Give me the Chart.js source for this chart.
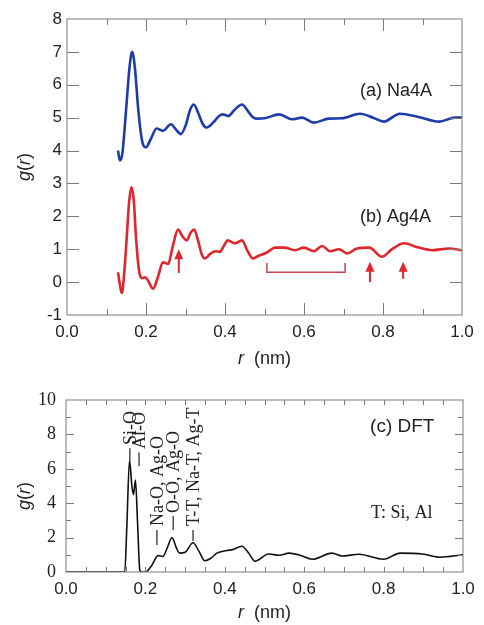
<!DOCTYPE html>
<html lang="en">
<head>
    <meta charset="UTF-8">
    <title>g(r) Na4A / Ag4A / DFT</title>
    <script src="https://cdn.jsdelivr.net/npm/chart.js@4.4.6/dist/chart.umd.min.js"></script>
    <style>
        body { margin: 0; background: #fff; }
        #top-wrap { position: absolute; left: 0; top: 0; width: 484px; height: 380px; }
        #bot-wrap { position: absolute; left: 0; top: 379px; width: 484px; height: 246px; }
    </style>
</head>
<body>
    <div id="top-wrap"><canvas id="rdf-exp"></canvas></div>
    <div id="bot-wrap"><canvas id="rdf-dft"></canvas></div>

    <script>
        // (a) Na4A, r in nm
        const rNa = [0.129, 0.134, 0.140, 0.150, 0.158, 0.165, 0.172, 0.180, 0.190, 0.200, 0.212, 0.227, 0.243, 0.263,
            0.275, 0.288, 0.300, 0.312, 0.321, 0.332, 0.344, 0.354, 0.370, 0.385, 0.395, 0.408, 0.425, 0.443, 0.458,
            0.470, 0.480, 0.500, 0.537, 0.570, 0.595, 0.625, 0.663, 0.696, 0.742, 0.775, 0.802, 0.843, 0.890, 0.942,
            0.982, 1.000]
        const gNa = [4.0, 3.7, 3.9, 5.3, 6.5, 7.0, 6.5, 5.3, 4.3, 4.1, 4.35, 4.67, 4.6, 4.8,
            4.65, 4.5, 4.75, 5.25, 5.4, 5.15, 4.8, 4.7, 4.85, 5.05, 5.1, 5.05, 5.25, 5.4, 5.2,
            5.02, 4.97, 4.98, 5.1, 4.95, 5.0, 4.85, 4.97, 4.98, 5.12, 5.0, 4.88, 5.12, 5.02, 4.88,
            5.0, 5.0]

        // (b) Ag4A
        const rAg = [0.129, 0.139, 0.145, 0.152, 0.157, 0.163, 0.169, 0.175, 0.183, 0.190, 0.198, 0.205, 0.218, 0.230,
            0.243, 0.256, 0.268, 0.281, 0.292, 0.303, 0.313, 0.322, 0.332, 0.341, 0.349, 0.362, 0.375, 0.387, 0.397,
            0.407, 0.425, 0.443, 0.457, 0.471, 0.485, 0.506, 0.527, 0.551, 0.577, 0.600, 0.625, 0.646, 0.666, 0.689,
            0.709, 0.734, 0.765, 0.797, 0.823, 0.853, 0.890, 0.924, 0.967, 1.000]
        const gAg = [0.3, -0.33, 0.3, 1.5, 2.4, 2.88, 2.5, 1.3, 0.3, 0.12, 0.15, 0.05, -0.2, 0.15,
            0.6, 0.55, 1.1, 1.6, 1.4, 1.27, 1.5, 1.6, 1.25, 0.85, 0.72, 0.85, 0.94, 0.92, 1.1,
            1.27, 1.18, 1.27, 0.95, 0.72, 0.8, 0.9, 1.05, 1.05, 0.97, 1.05, 0.94, 1.1, 0.94, 1.0,
            0.87, 1.02, 1.05, 0.77, 1.0, 1.18, 1.05, 0.97, 1.02, 0.97]

        // (c) DFT
        const rDft = [0.0, 0.148, 0.153, 0.160, 0.166, 0.170, 0.175, 0.180, 0.186, 0.190, 0.200, 0.215, 0.232, 0.244,
            0.255, 0.267, 0.278, 0.286, 0.300, 0.320, 0.335, 0.350, 0.365, 0.380, 0.405, 0.420, 0.443, 0.460, 0.476,
            0.510, 0.537, 0.562, 0.590, 0.620, 0.670, 0.695, 0.738, 0.800, 0.842, 0.898, 0.941, 1.000]
        const gDft = [0, 0, 2.5, 6.5, 5.0, 4.5, 5.35, 3.0, 0.1, 0, 0, 0.35, 0.95, 0.9,
            1.4, 2.0, 1.4, 1.1, 1.15, 1.7, 1.2, 0.65, 0.8, 1.1, 1.25, 1.3, 1.5, 1.1, 0.63,
            1.05, 0.97, 1.1, 0.97, 0.74, 1.1, 0.93, 1.03, 0.74, 1.1, 1.05, 0.86, 1.0]

        const xTickLabels = ['0.0', '0.2', '0.4', '0.6', '0.8', '1.0']

        // red arrows in (b): r, tail g, tip g
        const arrowR = [0.283, 0.767, 0.851]
        const arrowTail = [0.28, 0.0, 0.1]
        const arrowTip = [1.0, 0.62, 0.62]
        // bracket in (b)
        const bracketR = [0.506, 0.704]
        const bracketG = [0.3, 0.58]

        // peak assignments in (c): label, r, text start g, leader from/to g
        const peakLabels = ['Si-O', 'Al-O', 'Na-O, Ag-O', 'O-O, Ag-O', 'T-T, Na-T, Ag-T']
        const peakR = [0.161, 0.184, 0.229, 0.270, 0.320]
        const peakTextG = [7.38, 7.15, 2.67, 3.43, 2.67]
        const peakLeadTop = [7.2, 6.95, 2.44, 3.26, 2.44]
        const peakLeadBot = [6.5, 6.15, 1.57, 2.44, 1.8]

        const sans = '"Liberation Sans", Arial, Helvetica, sans-serif'
        const serif = '"Liberation Serif", "Times New Roman", serif'
        const frameColor = '#7b7b7b'

        function toPoints(xs, ys) {
            return xs.map((x, i) => ({ x: x, y: ys[i] }))
        }

        // mixed italic / upright text, centred on x
        function richText(ctx, parts, x, y, size) {
            let w = 0
            parts.forEach(p => {
                ctx.font = (p.it ? 'italic ' : '') + size + 'px ' + sans
                p.w = ctx.measureText(p.t).width
                w += p.w
            })
            let cx = x - w / 2
            ctx.textAlign = 'left'
            ctx.textBaseline = 'middle'
            parts.forEach(p => {
                ctx.font = (p.it ? 'italic ' : '') + size + 'px ' + sans
                ctx.fillText(p.t, cx, y)
                cx += p.w
            })
        }

        // box round the plot with inward ticks on all four sides
        function framePlugin(o) {
            return {
                id: 'frame',
                afterDraw(chart) {
                    const { ctx, chartArea: a, scales: { x, y } } = chart
                    ctx.save()
                    ctx.strokeStyle = frameColor
                    ctx.lineWidth = 1
                    ctx.strokeRect(a.left, a.top, a.right - a.left, a.bottom - a.top)
                    ctx.beginPath()
                    const nx = Math.round((x.max - x.min) / o.xStep)
                    for (let i = 1; i < nx; i++) {
                        const px = Math.round(x.getPixelForValue(x.min + i * o.xStep)) + 0.5
                        const len = i % o.xMajorEvery == 0 ? o.xLong : o.xShort
                        ctx.moveTo(px, a.bottom); ctx.lineTo(px, a.bottom - len)
                        ctx.moveTo(px, a.top); ctx.lineTo(px, a.top + len)
                    }
                    const ny = Math.round((y.max - y.min) / o.yStep)
                    for (let i = 1; i < ny; i++) {
                        const val = y.min + i * o.yStep
                        const py = Math.round(y.getPixelForValue(val)) + 0.5
                        const len = Math.round(val) % o.yMajorEvery == 0 ? o.yLong : o.yShort
                        ctx.moveTo(a.left, py); ctx.lineTo(a.left + len, py)
                        ctx.moveTo(a.right, py); ctx.lineTo(a.right - len, py)
                    }
                    ctx.stroke()
                    ctx.restore()
                }
            }
        }

        const gTitle = [{ t: 'g', it: true }, { t: '(' }, { t: 'r', it: true }, { t: ')' }]
        const rTitle = [{ t: 'r', it: true }, { t: '  (nm)' }]

        const expLabels = {
            id: 'expLabels',
            afterDraw(chart) {
                const { ctx, chartArea: a, scales: { x, y } } = chart
                ctx.save()
                ctx.fillStyle = '#222'
                ctx.translate(25, (a.top + a.bottom) / 2)
                ctx.rotate(-Math.PI / 2)
                richText(ctx, gTitle, 0, 0, 18)
                ctx.restore()

                ctx.save()
                ctx.fillStyle = '#222'
                richText(ctx, rTitle, (a.left + a.right) / 2, 359, 18)

                ctx.font = '18px ' + sans
                ctx.textAlign = 'left'
                ctx.textBaseline = 'middle'
                ctx.fillText('(a) Na4A', x.getPixelForValue(0.742), y.getPixelForValue(5.82))
                ctx.fillText('(b) Ag4A', x.getPixelForValue(0.742), y.getPixelForValue(1.97))

                // arrows
                ctx.strokeStyle = '#e0262d'
                ctx.fillStyle = '#e0262d'
                ctx.lineWidth = 2
                arrowR.forEach((r, i) => {
                    const px = x.getPixelForValue(r)
                    const yt = y.getPixelForValue(arrowTail[i])
                    const yh = y.getPixelForValue(arrowTip[i])
                    ctx.beginPath()
                    ctx.moveTo(px, yt); ctx.lineTo(px, yh + 8)
                    ctx.stroke()
                    ctx.beginPath()
                    ctx.moveTo(px, yh); ctx.lineTo(px - 4.5, yh + 10); ctx.lineTo(px + 4.5, yh + 10)
                    ctx.closePath()
                    ctx.fill()
                })

                // bracket
                ctx.strokeStyle = '#c8454f'
                ctx.lineWidth = 1.5
                const bx0 = x.getPixelForValue(bracketR[0]), bx1 = x.getPixelForValue(bracketR[1])
                const by0 = y.getPixelForValue(bracketG[0]), by1 = y.getPixelForValue(bracketG[1])
                ctx.beginPath()
                ctx.moveTo(bx0, by1); ctx.lineTo(bx0, by0); ctx.lineTo(bx1, by0); ctx.lineTo(bx1, by1)
                ctx.stroke()
                ctx.restore()
            }
        }

        const dftLabels = {
            id: 'dftLabels',
            afterDraw(chart) {
                const { ctx, chartArea: a, scales: { x, y } } = chart
                ctx.save()
                ctx.fillStyle = '#222'
                ctx.translate(25, (a.top + a.bottom) / 2 + 10)
                ctx.rotate(-Math.PI / 2)
                richText(ctx, gTitle, 0, 0, 18)
                ctx.restore()

                ctx.save()
                ctx.fillStyle = '#222'
                richText(ctx, rTitle, (a.left + a.right) / 2, 234, 18)

                ctx.textAlign = 'left'
                ctx.textBaseline = 'middle'
                ctx.font = '19px ' + sans
                ctx.fillText('(c) DFT', x.getPixelForValue(0.766), y.getPixelForValue(8.43))
                ctx.font = '18px ' + serif
                ctx.fillText('T: Si, Al', x.getPixelForValue(0.768), y.getPixelForValue(3.43))

                ctx.strokeStyle = '#222'
                ctx.lineWidth = 1.2
                peakLabels.forEach((t, i) => {
                    const px = x.getPixelForValue(peakR[i])
                    ctx.beginPath()
                    ctx.moveTo(px, y.getPixelForValue(peakLeadTop[i]))
                    ctx.lineTo(px, y.getPixelForValue(peakLeadBot[i]))
                    ctx.stroke()
                    ctx.save()
                    ctx.translate(px, y.getPixelForValue(peakTextG[i]))
                    ctx.rotate(-Math.PI / 2)
                    ctx.font = '18px ' + serif
                    ctx.textAlign = 'left'
                    ctx.textBaseline = 'middle'
                    ctx.fillText(t, 0, 1)
                    ctx.restore()
                })
                ctx.restore()
            }
        }

        function lineSet(xs, ys, color, width) {
            return {
                data: toPoints(xs, ys),
                borderColor: color,
                borderWidth: width,
                pointRadius: 0,
                cubicInterpolationMode: 'monotone',
                fill: false
            }
        }

        function makeOptions(o) {
            return {
                responsive: true,
                maintainAspectRatio: false,
                animation: false,
                layout: { padding: { top: o.padTop, right: o.padRight, left: 0, bottom: 0 } },
                plugins: { legend: { display: false }, tooltip: { enabled: false } },
                scales: {
                    x: {
                        type: 'linear',
                        min: 0,
                        max: 1,
                        grid: { display: false, drawTicks: false },
                        border: { display: false },
                        ticks: {
                            stepSize: 0.2,
                            padding: 7,
                            maxRotation: 0,
                            autoSkip: false,
                            color: '#222',
                            font: { family: sans, size: 17 },
                            callback: (v, i) => xTickLabels[i]
                        },
                        afterFit: s => { s.height = o.xHeight }
                    },
                    y: {
                        min: o.yMin,
                        max: o.yMax,
                        grid: { display: false, drawTicks: false },
                        border: { display: false },
                        ticks: {
                            stepSize: o.yStep,
                            padding: o.yPad,
                            color: '#222',
                            font: { family: o.yFont, size: o.yFontSize }
                        },
                        afterFit: s => { s.width = o.yWidth }
                    }
                }
            }
        }

        new Chart(document.getElementById('rdf-exp'), {
            type: 'line',
            data: {
                datasets: [
                    lineSet(rNa, gNa, '#1d3caa', 2.6),
                    lineSet(rAg, gAg, '#e0262d', 2.6)
                ]
            },
            options: makeOptions({ padTop: 19, padRight: 22, xHeight: 65, yMin: -1, yMax: 8, yStep: 1, yPad: 5,
                yFont: sans, yFontSize: 17, yWidth: 67 }),
            plugins: [framePlugin({ xStep: 0.1, xMajorEvery: 2, xLong: 12, xShort: 6, yStep: 1, yMajorEvery: 1, yLong: 12, yShort: 12 }), expLabels]
        })

        new Chart(document.getElementById('rdf-dft'), {
            type: 'line',
            data: {
                datasets: [lineSet(rDft, gDft, '#111', 1.6)]
            },
            options: makeOptions({ padTop: 21, padRight: 21, xHeight: 53, yMin: 0, yMax: 10, yStep: 2, yPad: 10,
                yFont: serif, yFontSize: 18, yWidth: 66 }),
            plugins: [framePlugin({ xStep: 0.05, xMajorEvery: 2, xLong: 5, xShort: 5, yStep: 1, yMajorEvery: 2, yLong: 8, yShort: 5 }), dftLabels]
        })
    </script>
</body>
</html>
